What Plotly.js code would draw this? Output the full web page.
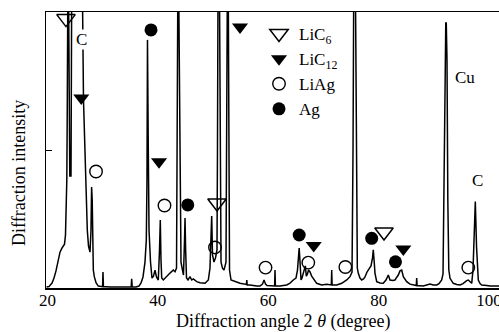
<!DOCTYPE html>
<html>
<head>
<meta charset="utf-8">
<script src="https://cdn.plot.ly/plotly-3.0.1.min.js"></script>
<style>html,body{margin:0;padding:0;background:#fff;}#chart{width:499px;height:332px;}</style>
</head>
<body>
<div id="chart"></div>
<script>
// Diffraction pattern (2θ in degrees, relative intensity; values >100 run off the top of the frame)
const angles = [19.84,20.29,20.84,21.20,21.56,21.92,22.29,22.65,23.10,23.28,23.43,23.52,23.59,23.70,23.84,24.06,24.28,24.40,26.18,26.36,26.54,26.72,26.87,27.03,27.23,27.45,27.72,27.90,28.01,28.12,28.21,28.32,28.50,28.81,29.22,29.84,30.00,30.07,30.15,31.34,33.15,35.18,35.27,35.36,36.05,36.59,36.96,37.32,37.68,37.92,38.04,38.13,38.28,38.41,38.68,38.95,39.22,39.49,39.76,40.09,40.31,40.45,40.58,40.71,41.00,41.30,41.61,42.21,42.81,43.12,43.39,43.51,43.62,43.80,43.98,44.20,44.47,44.65,44.84,44.93,45.04,45.20,45.47,45.83,46.14,46.43,47.05,47.64,48.55,49.15,49.45,49.64,49.76,49.91,50.18,50.45,50.72,50.81,50.90,51.18,51.36,51.45,51.72,51.99,52.35,52.50,52.59,52.77,52.86,52.99,53.26,53.98,54.89,56.05,56.12,56.19,56.70,57.91,58.51,58.96,59.24,59.51,59.78,61.16,61.23,61.30,62.13,63.35,63.95,64.54,65.03,65.30,65.48,65.61,65.76,65.94,66.12,66.35,66.57,66.72,66.90,67.11,67.30,67.57,67.87,68.17,68.78,69.69,70.59,71.43,71.50,71.57,72.40,73.31,74.22,74.81,75.18,75.36,75.48,75.81,75.99,76.14,76.32,76.62,76.93,77.26,77.53,77.89,78.35,78.62,78.89,79.03,79.20,79.34,79.65,80.25,80.84,81.33,81.75,82.06,82.60,82.96,83.32,83.56,83.87,84.18,84.47,84.77,85.08,85.68,86.82,86.89,86.97,88.09,88.71,89.30,89.90,90.52,90.93,91.42,91.66,91.80,91.93,92.07,92.16,92.25,92.38,92.53,92.71,92.93,93.52,94.14,94.74,95.28,95.64,95.95,96.24,96.55,96.86,97.09,97.27,97.51,97.73,97.91,98.05,98.36,98.67,99.57,100.17,101.80];
const intensity = [0.4,0.5,1.8,3.6,6.2,9.4,13.0,14.5,15.9,19.2,28.3,39.1,60.9,105,105,40.6,40.6,105,105,105,68.1,53.6,40.9,30.1,21.0,15.2,13.0,21.0,36.6,31.9,11.3,6.5,4.1,1.9,0.7,0.5,0.5,5.8,0.5,0.4,0.4,0.4,3.3,0.4,0.4,0.7,1.8,4.0,9.4,17.4,39.1,89.9,50.0,21.0,9.4,3.6,4.3,6.5,4.0,2.9,13.8,24.6,10.1,3.6,2.9,3.6,4.1,5.4,6.5,5.9,7.2,50.0,105,105,50.0,9.4,6.5,4.7,17.4,25.4,13.8,3.6,2.9,4.1,2.9,3.3,2.3,1.9,1.7,2.9,7.2,21.0,26.1,12.0,9.4,10.9,13.8,50.0,105,105,50.0,9.4,7.2,6.5,9.4,50.0,105,105,50.0,6.5,2.9,2.3,1.7,1.3,2.9,1.1,1.1,0.7,0.7,1.4,2.9,1.4,0.9,0.7,6.5,0.7,0.7,1.1,1.8,2.9,3.6,6.5,12.0,14.5,9.4,2.9,3.6,5.4,7.2,8.0,4.3,5.1,6.5,5.8,4.3,3.3,1.7,1.1,1.4,1.1,6.5,1.1,1.1,1.7,2.9,4.1,5.8,50.0,105,105,50.0,7.2,5.3,3.6,2.9,3.3,4.0,5.8,7.2,8.0,10.9,13.8,9.4,5.3,2.3,1.8,1.7,2.9,4.7,2.9,2.7,2.9,4.0,4.7,6.2,6.5,4.1,3.3,2.3,1.4,0.9,3.6,0.9,0.7,1.1,1.4,1.1,1.1,1.6,2.9,5.1,31.9,60.9,89.9,96.0,96.0,82.6,31.9,6.5,3.5,1.7,1.3,1.1,1.6,2.3,2.7,2.9,2.2,1.7,6.5,15.0,31.3,15.0,6.5,2.9,1.6,1.1,0.9,0.7,0.7];

// Phase markers (position, height)
const liC6Angle = [23.37, 50.72, 80.97];
const liC6Height = [97.6, 30.8, 20.3];
const liC12Angle = [26.14, 40.22, 54.89, 68.24, 84.47];
const liC12Height = [68.8, 45.7, 94.6, 15.4, 14.1];
const liAgAngle = [28.81, 41.21, 50.36, 59.51, 67.26, 73.97, 96.24];
const liAgHeight = [42.2, 29.9, 14.7, 7.4, 9.2, 7.6, 7.4];
const agAngle = [38.77, 45.43, 65.61, 78.74, 83.05];
const agHeight = [93.5, 30.1, 19.2, 18.0, 9.5];

// Peak labels
const labelText = ['C', 'Cu', 'C'];
const labelAngle = [26.18, 95.64, 97.91];
const labelHeight = [89.9, 76.1, 38.8];

const tickVals = [20, 40, 60, 80, 100];
const tickText = ['20', '40', '60', '80', '100'];

const SERIF = 'Liberation Serif, Times New Roman, serif';

const traces = [
  {x: angles, y: intensity, type: 'scatter', mode: 'lines', showlegend: false,
   line: {color: '#000', width: 1.5}, hoverinfo: 'skip'},
  {x: liC6Angle, y: liC6Height, type: 'scatter', mode: 'markers', name: 'LiC<sub>6</sub>',
   marker: {symbol: 'triangle-down-open', size: 16, color: '#000', line: {width: 1.5, color: '#000'}}},
  {x: liC12Angle, y: liC12Height, type: 'scatter', mode: 'markers', name: 'LiC<sub>12</sub>',
   marker: {symbol: 'triangle-down', size: 14, color: '#000'}},
  {x: liAgAngle, y: liAgHeight, type: 'scatter', mode: 'markers', name: 'LiAg',
   marker: {symbol: 'circle-open', size: 12.5, color: '#000', line: {width: 1.4, color: '#000'}}},
  {x: agAngle, y: agHeight, type: 'scatter', mode: 'markers', name: 'Ag',
   marker: {symbol: 'circle', size: 13, color: '#000'}}
];

const annotations = labelText.map((t, i) => ({
  x: labelAngle[i], y: labelHeight[i], xref: 'x', yref: 'y', text: t, showarrow: false,
  font: {family: SERIF, size: 17, color: '#000'},
  bgcolor: i === 0 ? '#fff' : 'rgba(0,0,0,0)', borderpad: 0
}));
annotations.push({
  xref: 'paper', yref: 'paper', x: 0.523, y: -0.121, xanchor: 'center', yanchor: 'middle',
  text: 'Diffraction angle 2 <i>θ</i> (degree)', showarrow: false,
  font: {family: SERIF, size: 18, color: '#000'}
});
annotations.push({
  xref: 'paper', yref: 'paper', x: -0.0596, y: 0.4167, xanchor: 'center', yanchor: 'middle',
  text: 'Diffraction intensity', textangle: -90, showarrow: false,
  font: {family: SERIF, size: 18, color: '#000'}
});

const layout = {
  width: 499, height: 332,
  margin: {l: 46, r: 0, t: 12, b: 44},
  paper_bgcolor: '#fff', plot_bgcolor: '#fff',
  showlegend: true,
  legend: {x: (259 - 46) / 453, y: (288 - 16) / 276, xanchor: 'left', yanchor: 'top',
           bgcolor: 'rgba(0,0,0,0)', font: {family: SERIF, size: 17, color: '#000'}},
  xaxis: {range: [19.75, 101.8], showgrid: false, zeroline: false, showline: true, mirror: true,
          linecolor: '#000', linewidth: 1.5, tickvals: tickVals, ticktext: tickText, ticks: '',
          ticklabeloverflow: 'allow', ticklabelstandoff: -4,
          tickfont: {family: SERIF, size: 17, color: '#000'}},
  yaxis: {range: [0, 100], showgrid: false, zeroline: false, showline: true, linecolor: '#000',
          linewidth: 1.5, tickvals: [50], ticks: 'inside', ticklen: 6, tickcolor: '#000',
          showticklabels: false},
  annotations: annotations
};

Plotly.newPlot('chart', traces, layout, {staticPlot: true, displayModeBar: false});
</script>
</body>
</html>
